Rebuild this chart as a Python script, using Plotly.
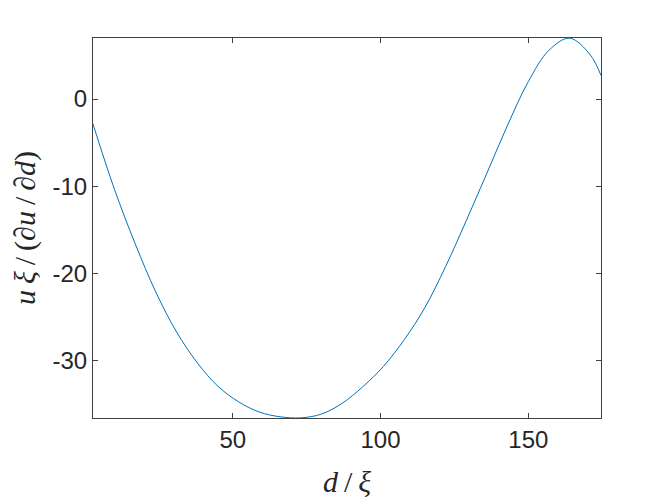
import plotly.graph_objects as go

# values (roughly every 7 units of d/xi)
d_xi = [2.7, 10, 17, 24, 31, 38, 45, 52, 59, 66, 73, 80, 87, 94, 101, 108,
        115, 122, 129, 136, 143, 150, 157, 164, 171, 174.6]
ratio = [-2.86, -10.38, -16.6, -22.15, -26.7, -30.23, -32.92, -34.7, -35.87,
         -36.41, -36.53, -36.1, -34.87, -32.96, -30.63, -27.59, -23.9, -19.2,
         -13.94, -8.48, -2.98, 2.0, 5.6, 6.98, 5.05, 2.7]

x_ticks = [50, 100, 150]
y_ticks = [-30, -20, -10, 0]
y_tick_text = ["-30", "-20", "-10", "0"]

fig = go.Figure()
fig.add_trace(go.Scatter(x=d_xi, y=ratio, mode="lines", line_shape="spline",
                         line=dict(color="#0072BD", width=1), showlegend=False))

axis_common = dict(showline=True, linecolor="#404040", linewidth=1, mirror="ticks",
                   ticks="inside", ticklen=5, tickcolor="#404040", showgrid=False,
                   zeroline=False, automargin=False,
                   tickfont=dict(family="Liberation Sans", size=24, color="#262626"))
title_font = dict(family="Liberation Serif", size=30, color="#262626")

fig.update_xaxes(range=[2.7, 174.6], tickvals=x_ticks,
                 title=dict(text="<i>d</i>\u2009/\u2009<i>ξ</i>", standoff=22, font=title_font),
                 **axis_common)
fig.update_yaxes(range=[-36.55, 7.0], tickvals=y_ticks, ticktext=y_tick_text,
                 title=dict(text="<i>u\u2009ξ</i>\u2009/\u2009(∂<i>u</i>\u2009/\u2009∂<i>d</i>)",
                            standoff=8, font=title_font),
                 **axis_common)

# page body adds an 8px offset, so the figure is drawn 8px smaller
fig.update_layout(width=656, height=490, plot_bgcolor="white", paper_bgcolor="white",
                  margin=dict(l=85, r=63, t=30, b=80))

fig.write_html("out.html")
